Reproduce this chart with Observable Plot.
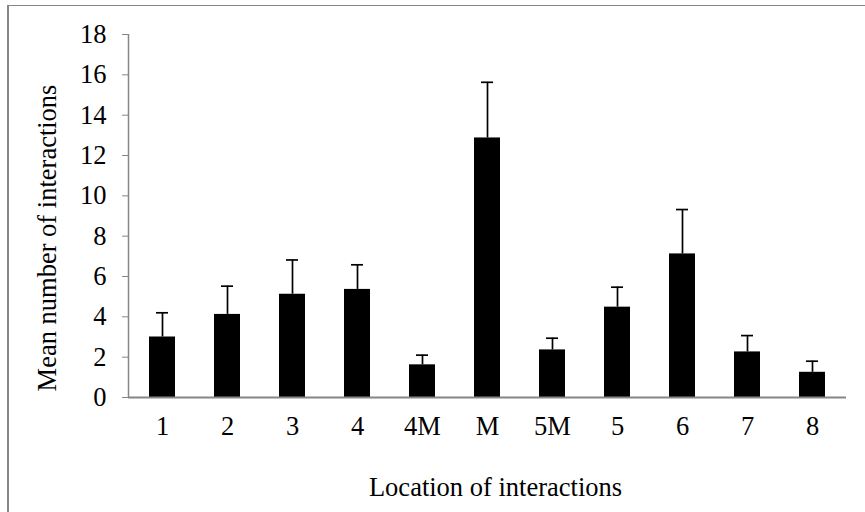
<!DOCTYPE html>
<html>
<head>
<meta charset="utf-8">
<script src="https://cdn.jsdelivr.net/npm/d3@7"></script>
<script src="https://cdn.jsdelivr.net/npm/@observablehq/plot@0.6"></script>
<style>
  html, body { margin: 0; padding: 0; background: #fff; overflow: hidden; }
  #wrap { position: relative; width: 865px; height: 512px; }
  #frame { position: absolute; left: 7px; top: 5px; width: 900px; height: 600px;
           border-top: 1.5px solid #868686; border-left: 2px solid #868686; box-sizing: border-box; }
  #chart { position: absolute; left: 0; top: 0; }
</style>
</head>
<body>
<div id="wrap"><div id="frame"></div><div id="chart"></div></div>
<script>
const categories = ["1", "2", "3", "4", "4M", "M", "5M", "5", "6", "7", "8"];
const means = [3.0, 4.12, 5.12, 5.36, 1.62, 12.87, 2.36, 4.48, 7.12, 2.26, 1.25];
const errors = [1.2, 1.4, 1.7, 1.22, 0.48, 2.76, 0.58, 0.99, 2.2, 0.81, 0.55];
const yTicks = [0, 2, 4, 6, 8, 10, 12, 14, 16, 18];
const yLabel = "Mean number of interactions";
const xLabel = "Location of interactions";

const data = categories.map((c, i) => ({cat: c, mean: means[i], top: means[i] + errors[i]}));
const font = "Liberation Serif, Times New Roman, serif";
const gray = "#868686";
const W = 865, H = 512, mL = 128, mR = 19, mT = 34, mB = 115;
const fs = 26.5;

const chart = Plot.plot({
  width: W,
  height: H,
  marginLeft: mL,
  marginRight: mR,
  marginTop: mT,
  marginBottom: mB,
  style: {fontFamily: font, fontSize: fs + "px", color: "black", background: "transparent"},
  x: {domain: categories, paddingInner: 0.6, paddingOuter: 0.3},
  y: {domain: [0, 18]},
  marks: [
    Plot.barY(data, {x: "cat", y: "mean", fill: "black"}),
    Plot.ruleX(data, {x: "cat", y1: "mean", y2: "top", stroke: "black", strokeWidth: 1.7}),
    Plot.tickY(data, {x: "cat", y: "top", stroke: "black", strokeWidth: 1.7, insetLeft: 7, insetRight: 7}),
    // vertical axis line at the left edge of the frame
    Plot.ruleX([0], {x: null, y1: 0, y2: 18, stroke: gray, strokeWidth: 1.5, dx: mL - (mL + W - mR) / 2}),
    Plot.ruleY([0], {stroke: gray, strokeWidth: 2}),
    Plot.axisY({ticks: yTicks, tickSize: 6, tickPadding: 16, stroke: gray, fill: "black", label: null, fontSize: fs}),
    Plot.axisX({tickSize: 0, tickPadding: 19, label: null, fill: "black", fontSize: fs}),
    Plot.text([yLabel], {frameAnchor: "left", rotate: -90, dx: -81, dy: 22, fontSize: fs, fill: "black", textAnchor: "middle", lineAnchor: "middle"}),
    Plot.text([xLabel], {frameAnchor: "bottom", dx: 8, dy: 90, fontSize: fs, fill: "black", textAnchor: "middle", lineAnchor: "middle"})
  ]
});
document.getElementById("chart").appendChild(chart);
</script>
</body>
</html>
